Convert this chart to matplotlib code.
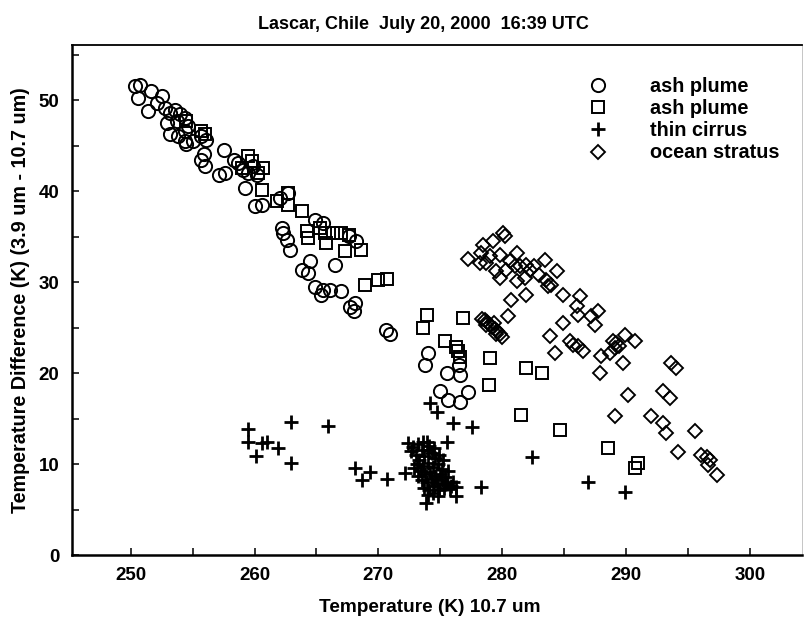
import matplotlib
matplotlib.use('Agg')
import matplotlib.pyplot as plt
from matplotlib.ticker import MultipleLocator

plt.rcParams['font.family'] = ['Liberation Sans', 'DejaVu Sans']
plt.rcParams['font.weight'] = 'bold'

# ash plume (circles)
circle_t = [250.35, 250.75, 250.6, 251.6, 251.4, 252.5, 252.1, 252.8, 253.2, 252.9,
            253.6, 254.0, 254.4, 253.7, 253.2, 253.8, 254.4, 254.5, 255.05, 254.6,
            254.4, 255.7, 256.1, 255.9, 255.7, 256.0, 257.5, 257.1, 257.6, 258.3,
            258.7, 259.1, 259.5, 259.9, 260.2, 259.2, 260.0, 260.6, 262.05, 262.7,
            262.2, 262.6, 262.85, 262.3, 264.9, 265.5, 264.5, 263.8, 264.3, 264.9,
            265.5, 266.1, 265.4, 267.0, 266.5, 267.6, 268.2, 267.7, 268.0, 268.1,
            270.6, 270.9, 274.0, 273.75, 275.5, 276.5, 276.6, 274.96, 275.6, 276.6,
            277.2]
circle_d = [51.6, 51.65, 50.3, 51.0, 48.8, 50.5, 49.7, 49.2, 48.6, 47.5,
            49.0, 48.5, 48.1, 47.7, 46.3, 46.1, 45.5, 45.2, 45.5, 47.2,
            46.6, 46.1, 45.7, 44.1, 43.5, 42.8, 44.6, 41.85, 42.0, 43.5,
            43.1, 42.4, 42.0, 42.8, 41.85, 40.4, 38.4, 38.5, 39.3, 39.8,
            36.0, 34.7, 33.6, 35.4, 36.9, 36.5, 32.3, 31.4, 31.0, 29.5,
            29.2, 29.2, 28.6, 29.0, 31.9, 35.1, 34.5, 27.3, 26.8, 27.7,
            24.7, 24.3, 22.2, 20.9, 20.0, 20.9, 19.8, 18.0, 17.1, 16.8,
            17.9]

# ash plume (squares)
square_t = [254.5, 255.7, 256.0, 259.5, 259.8, 259.0, 260.7, 260.3, 260.6, 262.7,
            261.8, 262.7, 263.8, 264.2, 264.3, 265.3, 265.7, 266.35, 265.8, 267.0,
            267.6, 267.3, 268.6, 268.9, 270.0, 270.7, 273.9, 273.6, 276.8, 275.4,
            276.3, 276.4, 276.6, 279.0, 278.9, 281.95, 283.2, 281.55, 284.65, 288.55,
            290.96, 290.7]
square_d = [47.7, 46.6, 46.3, 43.9, 43.3, 42.6, 42.6, 42.0, 40.2, 39.8,
            38.9, 38.5, 37.8, 35.6, 34.9, 36.0, 35.4, 35.4, 34.3, 35.4,
            35.2, 33.4, 33.6, 29.7, 30.3, 30.4, 26.4, 25.0, 26.1, 23.5,
            22.9, 22.4, 21.8, 21.7, 18.7, 20.6, 20.0, 15.4, 13.8, 11.75,
            10.1, 9.55]

# thin cirrus (crosses)
cross_t = [259.49, 259.49, 260.57, 260.97, 261.91, 260.11, 262.91, 262.91, 265.95, 268.1,
           268.64, 269.31, 270.66, 272.14, 274.15, 274.69, 276.04, 277.52, 275.5, 278.32,
           273.88, 276.3, 276.3, 282.36, 286.93, 289.89,
           272.4, 272.8, 273.2, 273.5, 273.0, 273.3, 273.7, 274.0, 274.3, 274.6,
           274.9, 273.6, 274.0, 274.4, 274.8, 275.1, 273.4, 273.8, 274.2, 274.6,
           275.0, 275.4, 273.5, 273.9, 274.3, 274.7, 275.1, 275.5, 273.7, 274.1,
           274.5, 274.9, 275.3, 275.8, 274.0, 274.4, 274.8, 273.2, 272.9, 273.1,
           274.1, 273.9, 275.2, 275.6, 274.5, 275.9, 276.0, 273.6, 272.6]
cross_d = [13.84, 12.48, 12.3, 12.48, 11.75, 10.9, 14.68, 10.17, 14.2, 9.54,
           8.26, 9.18, 8.33, 9.0, 16.7, 15.78, 14.57, 14.13, 12.48, 7.52,
           5.69, 6.5, 7.52, 10.83, 8.08, 6.98,
           12.3, 11.9, 12.2, 11.5, 11.0, 10.5, 10.9, 11.6, 11.2, 10.7,
           11.0, 9.8, 10.1, 9.7, 10.0, 9.5, 9.2, 8.9, 9.1, 8.7,
           8.9, 8.6, 8.3, 8.0, 8.4, 7.9, 8.2, 7.8, 7.4, 7.2,
           7.6, 7.1, 7.4, 7.3, 6.6, 6.8, 6.5, 8.7, 9.6, 10.0,
           12.0, 12.4, 10.4, 9.2, 11.8, 7.6, 8.0, 12.4, 11.4]

# ocean stratus (diamonds)
diamond_t = [280.07, 280.2, 278.46, 279.26, 278.32, 279.0, 277.24, 278.19, 278.7, 279.8,
             281.15, 280.6, 280.3, 279.53, 279.8, 281.0, 281.4, 281.95, 282.2, 282.6,
             281.82, 281.15, 283.43, 284.4, 283.0, 283.57, 283.7, 283.97, 284.9, 280.74,
             281.95, 286.26, 286.0, 286.12, 287.74, 287.2, 287.47, 280.47, 284.9, 283.84,
             285.45, 286.12, 286.53, 284.24, 288.0, 287.87, 289.2, 289.89, 290.7, 289.76,
             288.95, 288.68, 290.16, 289.08, 292.04, 293.0, 293.25, 293.0, 293.52, 293.66,
             294.06, 295.54, 294.2, 296.08, 296.5, 296.75, 297.3, 296.6,
             278.4, 278.6, 278.8, 279.0, 279.2, 279.4, 279.6, 279.8, 280.0, 278.7,
             279.3, 279.5, 285.7, 289.4, 289.1]
diamond_d = [35.43, 35.06, 34.14, 34.51, 33.23, 32.86, 32.57, 32.12, 32.12, 33.04,
             33.23, 32.3, 31.39, 31.2, 30.47, 31.76, 31.76, 31.94, 31.39, 31.76,
             30.47, 30.1, 32.49, 31.2, 30.84, 30.29, 29.56, 29.74, 28.64, 28.09,
             28.64, 28.45, 27.35, 26.43, 26.8, 26.25, 25.33, 26.25, 25.5, 24.05,
             23.5, 22.95, 22.4, 22.21, 21.85, 20.01, 23.31, 24.23, 23.5, 21.11,
             23.5, 22.21, 17.62, 15.24, 15.24, 14.5, 13.4, 18.0, 17.26, 21.11,
             20.56, 13.59, 11.38, 11.02, 10.83, 10.47, 8.81, 9.92,
             26.0, 25.8, 25.6, 25.3, 25.1, 24.9, 24.6, 24.3, 24.0, 25.3,
             25.5, 24.3, 23.1, 23.0, 22.8]

series = [
    (circle_t, circle_d, 'o', 9.5, 1.4, 'ash plume'),
    (square_t, square_d, 's', 9.0, 1.4, 'ash plume'),
    (cross_t, cross_d, '+', 10.0, 2.0, 'thin cirrus'),
    (diamond_t, diamond_d, 'D', 7.5, 1.35, 'ocean stratus'),
]

fig = plt.figure(figsize=(8.07, 6.27), dpi=100)
ax = fig.add_axes([72 / 807, 1 - 555 / 627, 730 / 807, 510 / 627])

for t, d, marker, ms, mew, label in series:
    ax.plot(t, d, linestyle='none', marker=marker, markersize=ms, markeredgewidth=mew,
            markerfacecolor='none', markeredgecolor='black', label=label)

ax.set_xlim(245.26, 304.2)
ax.set_ylim(0, 56.1)
ax.xaxis.set_major_locator(MultipleLocator(10))
ax.xaxis.set_minor_locator(MultipleLocator(5))
ax.yaxis.set_major_locator(MultipleLocator(10))
ax.yaxis.set_minor_locator(MultipleLocator(5))
ax.tick_params(which='both', direction='in', length=5, width=1.1, color='black',
               top=False, right=False)
ax.tick_params(which='major', labelsize=13.5, pad=9)
for lab in ax.get_xticklabels() + ax.get_yticklabels():
    lab.set_fontweight('bold')

for side in ['left', 'bottom']:
    ax.spines[side].set_linewidth(1.8)
ax.spines['top'].set_linewidth(1.3)
ax.spines['right'].set_linewidth(0.6)
ax.spines['right'].set_color('#bbbbbb')

ax.set_xlabel('Temperature (K) 10.7 um', fontsize=13.7, fontweight='bold')
ax.xaxis.set_label_coords(0.49, -0.086)
ax.set_ylabel('Temperature Difference (K) (3.9 um - 10.7 um)', fontsize=14.2, fontweight='bold')
ax.yaxis.set_label_coords(-0.058, 0.5)
ax.set_title('Lascar, Chile  July 20, 2000  16:39 UTC', fontsize=13, fontweight='bold',
             x=0.482, y=1.04, va='center', pad=0)

leg = ax.legend(loc='upper left', bbox_to_anchor=(580 / 807, 1 - 69 / 627),
                bbox_transform=fig.transFigure, frameon=False, fontsize=14.3,
                handlelength=1.0, handletextpad=2.1, labelspacing=0.16,
                borderpad=0.4, borderaxespad=0)
for txt in leg.get_texts():
    txt.set_fontweight('bold')

fig.savefig('out.png', dpi=100)
